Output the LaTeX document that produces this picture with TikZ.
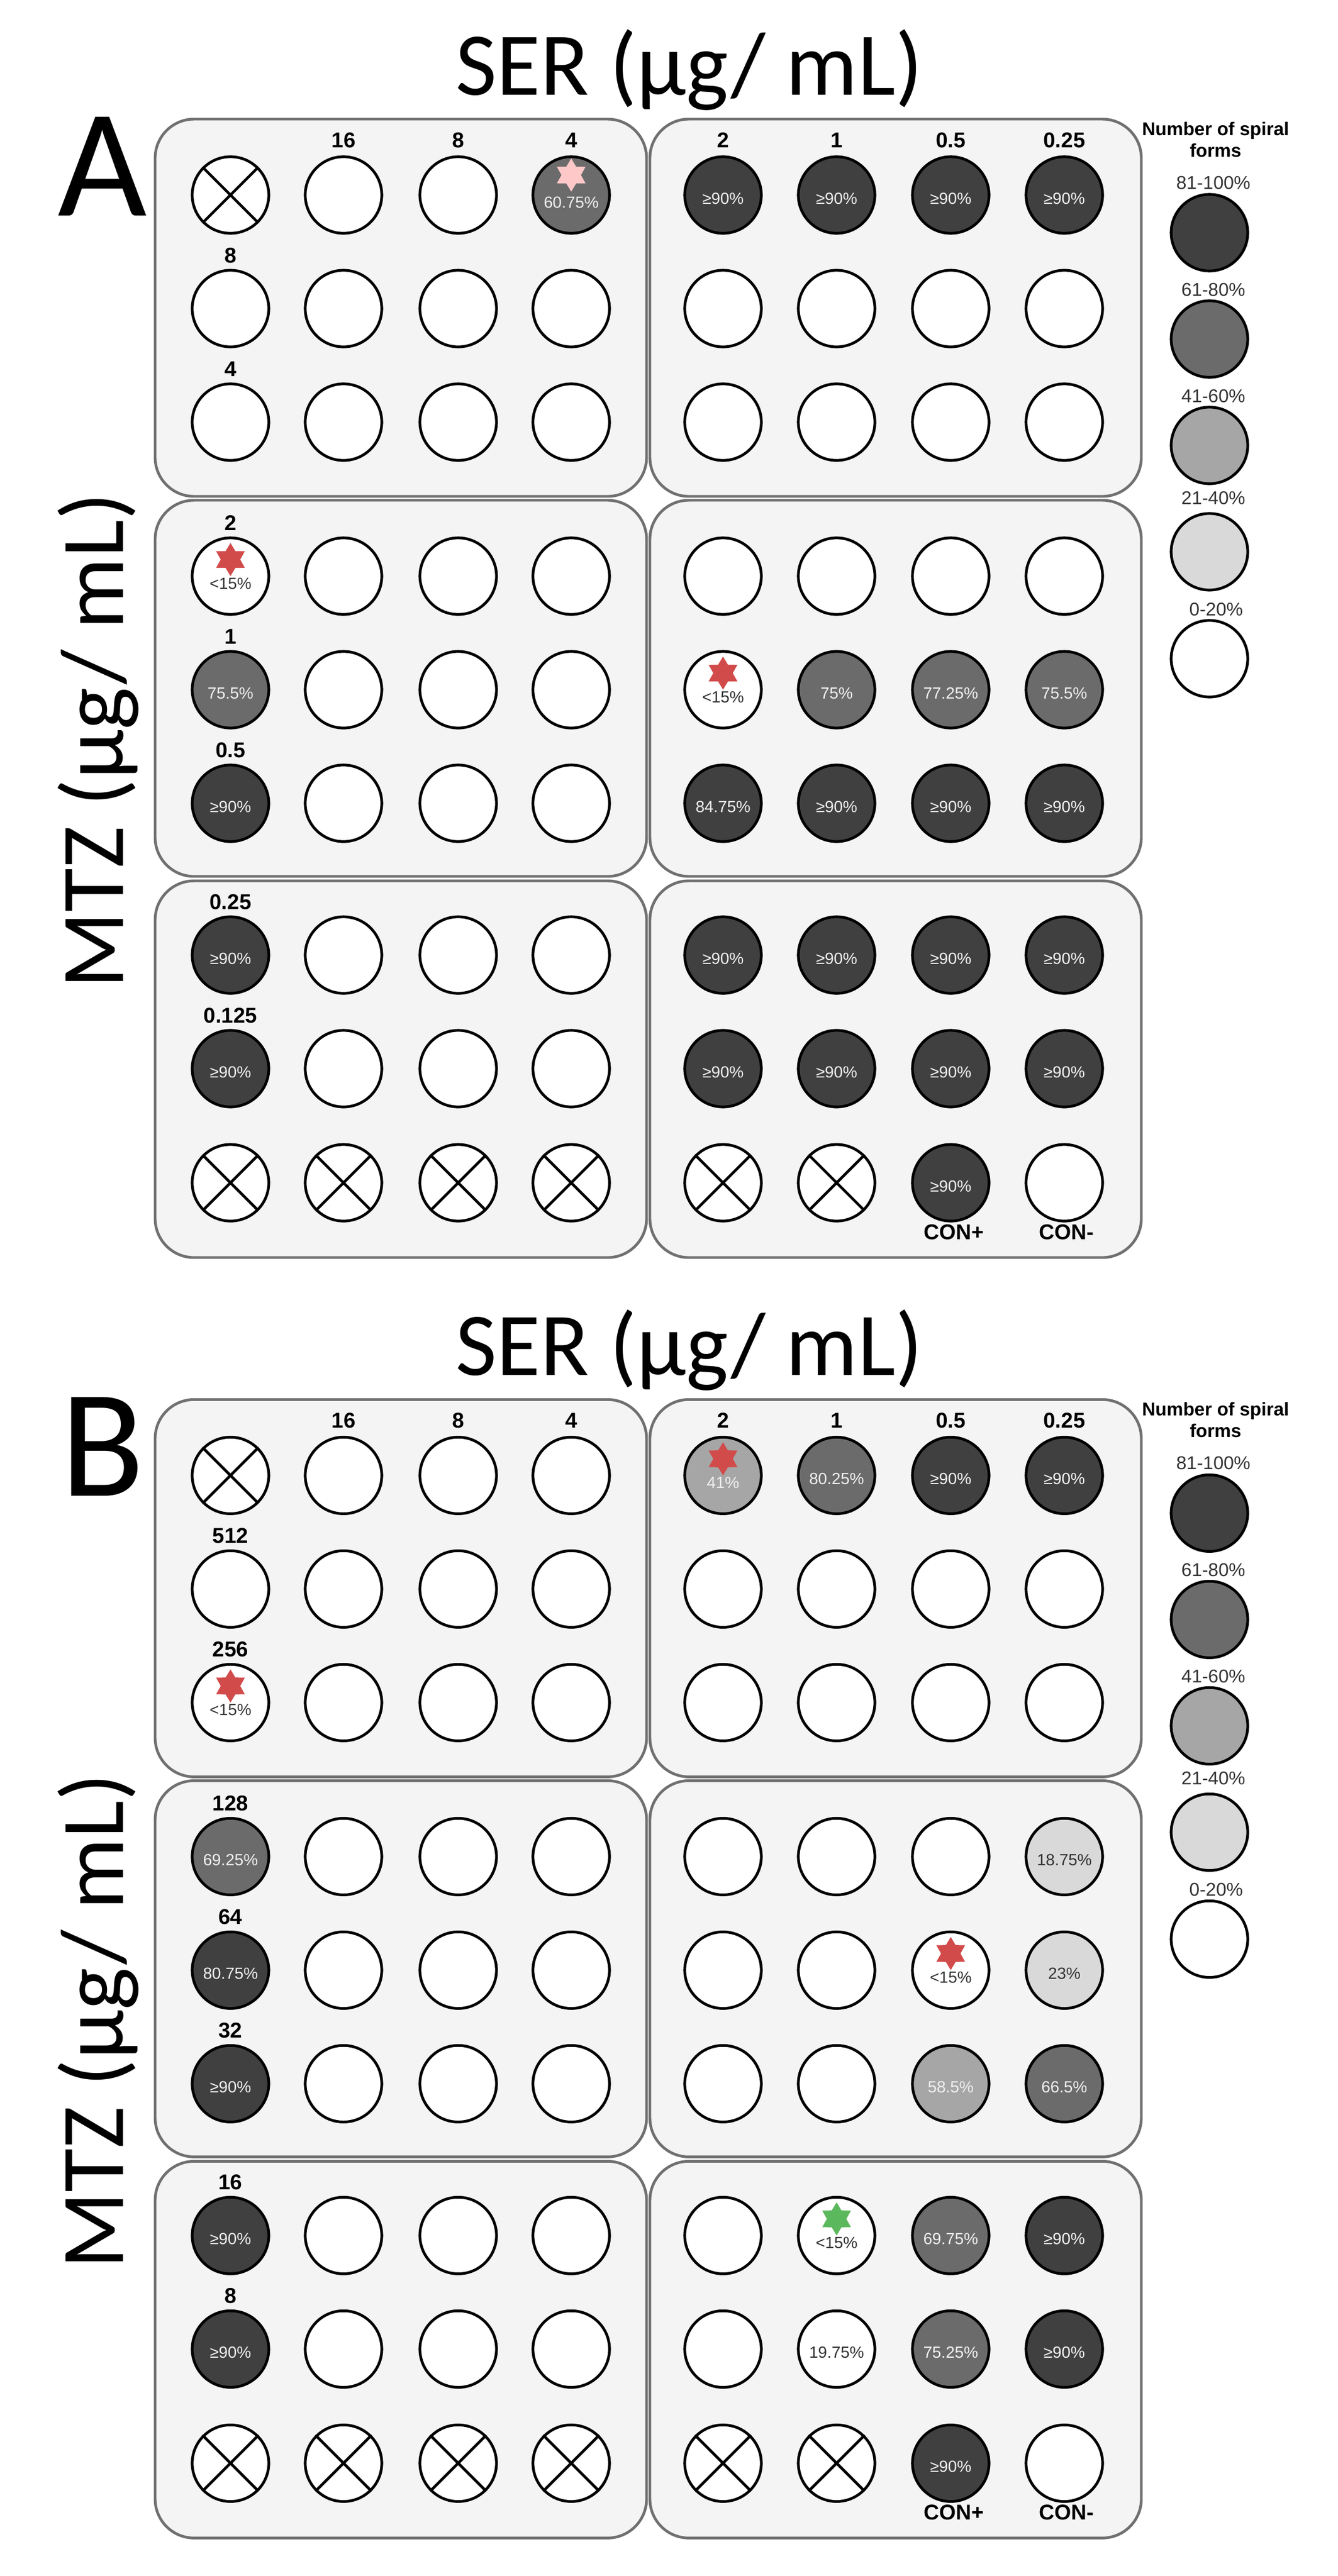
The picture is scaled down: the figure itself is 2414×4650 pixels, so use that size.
\documentclass[tikz,border=0pt]{standalone}
\usepackage{fontspec}
\setmainfont{Liberation Sans}
\newfontfamily\ttlfont{Carlito}
\usetikzlibrary{shapes.geometric}
\definecolor{dk}{HTML}{404040}
\definecolor{md}{HTML}{6B6B6B}
\definecolor{lg}{HTML}{A6A6A6}
\definecolor{vl}{HTML}{D9D9D9}
\definecolor{bg}{HTML}{F4F4F4}
\definecolor{bd}{HTML}{707070}
\definecolor{stred}{HTML}{D24B4B}
\definecolor{stpink}{HTML}{FFC8C8}
\definecolor{stgreen}{HTML}{5CB85C}
\definecolor{wt}{HTML}{F0F0F0}
\definecolor{tx}{HTML}{333333}
\tikzset{
 well/.style={circle, draw=black, line width=1.4pt, minimum size=39.3pt, inner sep=0pt},
 pct/.style={font=\fontsize{8.3}{9}\selectfont, inner sep=0pt},
 lab/.style={font=\bfseries\fontsize{11}{12}\selectfont, inner sep=0pt},
 leg/.style={font=\fontsize{9.5}{11}\selectfont, text=tx, inner sep=0pt},
 panel/.style={draw=bd, fill=bg, line width=1.4pt, rounded corners=20pt},
 starmark/.style={star, star points=6, star point ratio=1.7, minimum size=17pt, inner sep=0pt, draw=none},
 ttl/.style={font=\ttlfont\fontsize{46}{50}\selectfont, inner sep=0pt}
}
\newcommand\Wo[3]{\node[well,fill=white] (#1) at (#2,#3) {};}
\newcommand\Wx[3]{\node[well,fill=white] (#1) at (#2,#3) {};
 \draw[line width=1.4pt] (#1.45) -- (#1.225) (#1.135) -- (#1.315);}
\newcommand\Wf[6]{\node[well,fill=#4] (#1) at (#2,#3) {};
 \node[pct,text=#6] (#1t) at (#2,#3+6) {#5};}
\newcommand\Ws[8]{\node[well,fill=#4] (#1) at (#2,#3) {};
 \node[starmark,fill=#7] (#1s) at (#2,#3-#8) {};
 \node[pct,text=#6] (#1t) at (#2,#3+13) {#5};}
\newcommand\Common[2]{%
 \node[ttl, anchor=base] (#1ser) at (1244,171) {SER (µg/ mL)};
 \node[font=\ttlfont\fontsize{79}{80}\selectfont, inner sep=0pt, anchor=base] (#1lt) at (185,389) {#2};
 \node[ttl, rotate=90] (#1mtz) at (177,1337) {MTZ (µg/ mL)};
 \foreach \i/\xa/\xb in {1/280/1167,2/1173/2060}
  \foreach \j/\ya/\yb in {1/215/896,2/903/1582,3/1590/2270}
   \draw[panel] (\xa,\ya) rectangle (\xb,\yb);
 \node[lab] (#1c2) at (620,253) {16};
 \node[lab] (#1c3) at (827,253) {8};
 \node[lab] (#1c4) at (1031,253) {4};
 \node[lab] (#1c5) at (1305,253) {2};
 \node[lab] (#1c6) at (1510,253) {1};
 \node[lab] (#1c7) at (1716,253) {0.5};
 \node[lab] (#1c8) at (1921,253) {0.25};
 \node[lab] (#1conp) at (1722,2224) {CON+};
 \node[lab] (#1conm) at (1925,2224) {CON-};
 \node[font=\bfseries\fontsize{9.5}{11}\selectfont, align=center, inner sep=0pt] (#1lgt) at (2194,252) {Number of spiral\\forms};
 \node[leg] (#1l1) at (2190,330) {81-100\%};
 \node[well,fill=dk] (#1g1) at (2183,420) {};
 \node[leg] (#1l2) at (2190,523) {61-80\%};
 \node[well,fill=md] (#1g2) at (2183,612) {};
 \node[leg] (#1l3) at (2190,715) {41-60\%};
 \node[well,fill=lg] (#1g3) at (2183,804) {};
 \node[leg] (#1l4) at (2190,899) {21-40\%};
 \node[well,fill=vl] (#1g4) at (2183,996) {};
 \node[leg] (#1l5) at (2195,1100) {0-20\%};
 \node[well,fill=white] (#1g5) at (2183,1189) {};
}
\begin{document}
\begin{tikzpicture}[x=0.01cm,y=-0.01cm]
\useasboundingbox (0,0) rectangle (2414,4650);
% ================= A =================
\Common{A}{A}
\node[lab] (Ar2) at (416,461) {8};
\node[lab] (Ar3) at (416,666) {4};
\node[lab] (Ar4) at (416,944) {2};
\node[lab] (Ar5) at (416,1149) {1};
\node[lab] (Ar6) at (416,1354) {0.5};
\node[lab] (Ar7) at (416,1628) {0.25};
\node[lab] (Ar8) at (416,1833) {0.125};
% row 1
\Wx{A11}{416}{352}
\Wo{A12}{620}{352}
\Wo{A13}{827}{352}
\Ws{A14}{1031}{352}{md}{60.75\%}{wt}{stpink}{36}
\foreach \c/\x in {5/1305,6/1510,7/1716,8/1921}{\Wf{A1\c}{\x}{352}{dk}{≥90\%}{wt}}
% rows 2,3
\foreach \r/\y in {2/557,3/762}
 \foreach \c/\x in {1/416,2/620,3/827,4/1031,5/1305,6/1510,7/1716,8/1921}{\Wo{A\r\c}{\x}{\y}}
% row 4
\Ws{A41}{416}{1040}{white}{<15\%}{tx}{stred}{30}
\foreach \c/\x in {2/620,3/827,4/1031,5/1305,6/1510,7/1716,8/1921}{\Wo{A4\c}{\x}{1040}}
% row 5
\Wf{A51}{416}{1245}{md}{75.5\%}{wt}
\foreach \c/\x in {2/620,3/827,4/1031}{\Wo{A5\c}{\x}{1245}}
\Ws{A55}{1305}{1245}{white}{<15\%}{tx}{stred}{30}
\Wf{A56}{1510}{1245}{md}{75\%}{wt}
\Wf{A57}{1716}{1245}{md}{77.25\%}{wt}
\Wf{A58}{1921}{1245}{md}{75.5\%}{wt}
% row 6
\Wf{A61}{416}{1450}{dk}{≥90\%}{wt}
\foreach \c/\x in {2/620,3/827,4/1031}{\Wo{A6\c}{\x}{1450}}
\Wf{A65}{1305}{1450}{dk}{84.75\%}{wt}
\foreach \c/\x in {6/1510,7/1716,8/1921}{\Wf{A6\c}{\x}{1450}{dk}{≥90\%}{wt}}
% rows 7,8
\foreach \r/\y in {7/1724,8/1929}{
 \Wf{A\r1}{416}{\y}{dk}{≥90\%}{wt}
 \foreach \c/\x in {2/620,3/827,4/1031}{\Wo{A\r\c}{\x}{\y}}
 \foreach \c/\x in {5/1305,6/1510,7/1716,8/1921}{\Wf{A\r\c}{\x}{\y}{dk}{≥90\%}{wt}}
}
% row 9
\foreach \c/\x in {1/416,2/620,3/827,4/1031,5/1305,6/1510}{\Wx{A9\c}{\x}{2135}}
\Wf{A97}{1716}{2135}{dk}{≥90\%}{wt}
\Wo{A98}{1921}{2135}
% ================= B =================
\begin{scope}[yshift=-23.1cm]
\Common{B}{B}
\node[lab] (Br2) at (416,461) {512};
\node[lab] (Br3) at (416,666) {256};
\node[lab] (Br4) at (416,944) {128};
\node[lab] (Br5) at (416,1149) {64};
\node[lab] (Br6) at (416,1354) {32};
\node[lab] (Br7) at (416,1628) {16};
\node[lab] (Br8) at (416,1833) {8};
% row 1
\Wx{B11}{416}{352}
\foreach \c/\x in {2/620,3/827,4/1031}{\Wo{B1\c}{\x}{352}}
\Ws{B15}{1305}{352}{lg}{41\%}{wt}{stred}{30}
\Wf{B16}{1510}{352}{md}{80.25\%}{wt}
\Wf{B17}{1716}{352}{dk}{≥90\%}{wt}
\Wf{B18}{1921}{352}{dk}{≥90\%}{wt}
% row 2
\foreach \c/\x in {1/416,2/620,3/827,4/1031,5/1305,6/1510,7/1716,8/1921}{\Wo{B2\c}{\x}{557}}
% row 3
\Ws{B31}{416}{762}{white}{<15\%}{tx}{stred}{30}
\foreach \c/\x in {2/620,3/827,4/1031,5/1305,6/1510,7/1716,8/1921}{\Wo{B3\c}{\x}{762}}
% row 4
\Wf{B41}{416}{1040}{md}{69.25\%}{wt}
\foreach \c/\x in {2/620,3/827,4/1031,5/1305,6/1510,7/1716}{\Wo{B4\c}{\x}{1040}}
\Wf{B48}{1921}{1040}{vl}{18.75\%}{tx}
% row 5
\Wf{B51}{416}{1245}{dk}{80.75\%}{wt}
\foreach \c/\x in {2/620,3/827,4/1031,5/1305,6/1510}{\Wo{B5\c}{\x}{1245}}
\Ws{B57}{1716}{1245}{white}{<15\%}{tx}{stred}{30}
\Wf{B58}{1921}{1245}{vl}{23\%}{tx}
% row 6
\Wf{B61}{416}{1450}{dk}{≥90\%}{wt}
\foreach \c/\x in {2/620,3/827,4/1031,5/1305,6/1510}{\Wo{B6\c}{\x}{1450}}
\Wf{B67}{1716}{1450}{lg}{58.5\%}{wt}
\Wf{B68}{1921}{1450}{md}{66.5\%}{wt}
% row 7
\Wf{B71}{416}{1724}{dk}{≥90\%}{wt}
\foreach \c/\x in {2/620,3/827,4/1031,5/1305}{\Wo{B7\c}{\x}{1724}}
\Ws{B76}{1510}{1724}{white}{<15\%}{tx}{stgreen}{30}
\Wf{B77}{1716}{1724}{md}{69.75\%}{wt}
\Wf{B78}{1921}{1724}{dk}{≥90\%}{wt}
% row 8
\Wf{B81}{416}{1929}{dk}{≥90\%}{wt}
\foreach \c/\x in {2/620,3/827,4/1031,5/1305}{\Wo{B8\c}{\x}{1929}}
\Wf{B86}{1510}{1929}{white}{19.75\%}{tx}
\Wf{B87}{1716}{1929}{md}{75.25\%}{wt}
\Wf{B88}{1921}{1929}{dk}{≥90\%}{wt}
% row 9
\foreach \c/\x in {1/416,2/620,3/827,4/1031,5/1305,6/1510}{\Wx{B9\c}{\x}{2135}}
\Wf{B97}{1716}{2135}{dk}{≥90\%}{wt}
\Wo{B98}{1921}{2135}
\end{scope}
\end{tikzpicture}
\end{document}
